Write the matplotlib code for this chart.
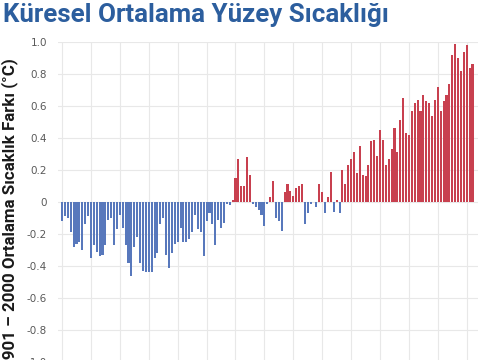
import matplotlib
matplotlib.use("Agg")
import matplotlib.pyplot as plt
from matplotlib import font_manager

# yearly anomaly vs. 1901-2000 mean (°C)
years = list(range(1880, 2023))
anomaly = [
    -0.12, -0.09, -0.10, -0.19, -0.28, -0.26, -0.25, -0.30, -0.14, -0.09,  # 1880s
    -0.35, -0.27, -0.31, -0.34, -0.33, -0.27, -0.11, -0.10, -0.27, -0.17,  # 1890s
    -0.08, -0.16, -0.27, -0.38, -0.46, -0.28, -0.22, -0.38, -0.43, -0.44,  # 1900s
    -0.44, -0.44, -0.35, -0.32, -0.14, -0.10, -0.33, -0.41, -0.32, -0.26,  # 1910s
    -0.25, -0.16, -0.25, -0.25, -0.23, -0.19, -0.08, -0.17, -0.19, -0.34,  # 1920s
    -0.12, -0.07, -0.14, -0.27, -0.11, -0.16, -0.13, -0.01, -0.02, 0.01,   # 1930s
    0.15, 0.27, 0.10, 0.10, 0.28, 0.17, -0.01, -0.03, -0.05, -0.08,        # 1940s
    -0.15, -0.01, 0.03, 0.13, -0.10, -0.12, -0.18, 0.06, 0.11, 0.07,       # 1950s
    0.04, 0.09, 0.10, 0.11, -0.14, -0.07, -0.01, 0.00, -0.03, 0.11,        # 1960s
    0.06, -0.07, 0.03, 0.19, -0.06, 0.01, -0.07, 0.20, 0.11, 0.23,         # 1970s
    0.27, 0.31, 0.18, 0.35, 0.17, 0.16, 0.23, 0.38, 0.39, 0.29,            # 1980s
    0.45, 0.39, 0.23, 0.27, 0.33, 0.46, 0.31, 0.51, 0.65, 0.43,            # 1990s
    0.42, 0.57, 0.62, 0.64, 0.57, 0.67, 0.63, 0.62, 0.54, 0.64,            # 2000s
    0.72, 0.57, 0.63, 0.67, 0.74, 0.92, 0.99, 0.90, 0.82, 0.94,            # 2010s
    0.98, 0.84, 0.86,                                                      # 2020s
]
y_ticks = [1.0, 0.8, 0.6, 0.4, 0.2, 0, -0.2, -0.4, -0.6, -0.8, -1.0]
y_tick_labels = ["1.0", "0.8", "0.6", "0.4", "0.2", "0", "-0.2", "-0.4", "-0.6", "-0.8", "-1.0"]
grid_years = list(range(1880, 2021, 10))

title = "Küresel Ortalama Yüzey Sıcaklığı"
ylabel = "1901 – 2000 Ortalama Sıcaklık Farkı (°C)"


def pick_font(names):
    have = {f.name for f in font_manager.fontManager.ttflist}
    for n in names:
        if n in have:
            return n
    return "DejaVu Sans"


head_font = pick_font(["Liberation Sans Narrow", "Roboto", "DejaVu Sans"])

W, H = 485, 360
fig = plt.figure(figsize=(W / 100, H / 100), dpi=100)
fig.patch.set_facecolor("white")

# axes placed in pixels: left 58, right 478, top 42 (=1.0), bottom 362 (=-1.0)
ax = fig.add_axes([58 / W, 1 - 362 / H, (478 - 58) / W, (362 - 42) / H])

red, blue = "#c8404f", "#5878bc"
colors = [red if v >= 0 else blue for v in anomaly]
ax.bar(years, anomaly, width=0.72, color=colors, linewidth=0, zorder=3)

ax.set_xlim(1878.6, 2023.9)
ax.set_ylim(-1.0, 1.0)
ax.set_xticks(grid_years)
ax.set_xticklabels([])
ax.tick_params(axis="x", length=0)
ax.set_yticks(y_ticks)
ax.set_yticklabels(y_tick_labels)
ax.tick_params(axis="y", length=0, pad=8, labelsize=7.5, labelcolor="#595959")
ax.grid(True, color="#e8e8e8", linewidth=0.8, zorder=0)
for s in ax.spines.values():
    s.set_visible(False)

fig.text(3 / W, 1 - 3 / H, title, ha="left", va="top", fontsize=18.6,
         fontweight="bold", color="#2c5e9e", family=[head_font, "DejaVu Sans"])
# the reference crops the first digit of the label at the bottom edge
fig.text(10 / W, 1 - 58 / H, ylabel, ha="center", va="top", rotation=90,
         fontsize=12.2, fontweight="bold", color="#1a1a1a",
         family=[head_font, "DejaVu Sans"])

fig.savefig("out.png", dpi=100)
